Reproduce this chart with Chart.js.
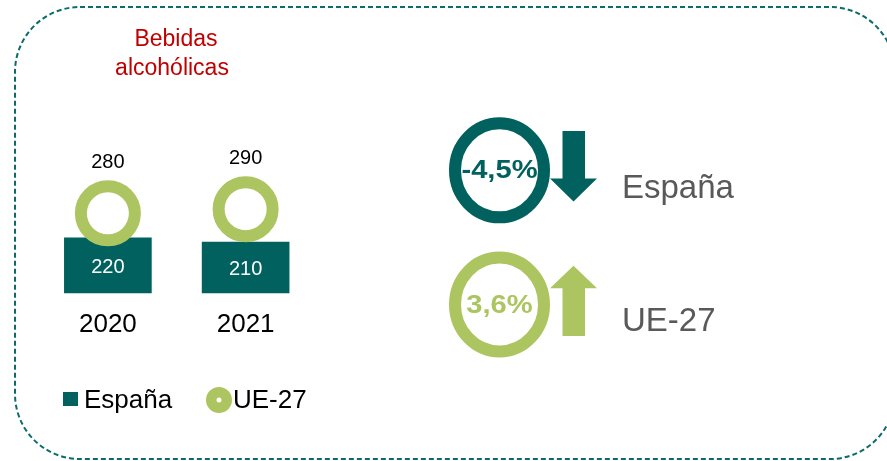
<!DOCTYPE html>
<html lang="es">
<head>
    <meta charset="UTF-8">
    <title>Bebidas alcohólicas</title>
    <script src="https://cdn.jsdelivr.net/npm/chart.js@4.4.8/dist/chart.umd.min.js"></script>
    <style>
        body { margin: 0; background: #fff; }
        canvas { display: block; }
    </style>
</head>
<body>
    <canvas id="chart" width="887" height="461"></canvas>
    <script>
        const years = ['2020', '2021'];
        const espana = [220, 210];
        const ue27 = [280, 290];
        const seriesNames = ['España', 'UE-27'];
        const changes = ['-4,5%', '3,6%'];
        const title = ['Bebidas', 'alcohólicas'];

        const TEAL = '#00615F';
        const GREEN = '#ADC560';
        const FONT = '"Liberation Sans", Arial, sans-serif';

        function drawArrow(ctx, color, shaftL, shaftR, headL, headR, tipY, baseY, endY) {
            ctx.fillStyle = color;
            ctx.beginPath();
            ctx.moveTo(shaftL, endY);
            ctx.lineTo(shaftL, baseY);
            ctx.lineTo(headL, baseY);
            ctx.lineTo((headL + headR) / 2, tipY);
            ctx.lineTo(headR, baseY);
            ctx.lineTo(shaftR, baseY);
            ctx.lineTo(shaftR, endY);
            ctx.closePath();
            ctx.fill();
        }

        const decor = {
            id: 'decor',
            beforeDraw(chart) {
                const ctx = chart.ctx;
                ctx.save();
                // dashed frame
                ctx.strokeStyle = '#0E6B6B';
                ctx.lineWidth = 2;
                ctx.setLineDash([5, 3]);
                ctx.beginPath();
                ctx.roundRect(15, 7, 880, 452, 65);
                ctx.stroke();
                ctx.setLineDash([]);

                // title
                ctx.fillStyle = '#C00000';
                ctx.font = '23px ' + FONT;
                ctx.textAlign = 'center';
                ctx.textBaseline = 'middle';
                ctx.fillText(title[0], 176, 40);
                ctx.fillText(title[1], 172, 69);
                ctx.restore();
            },
            afterDatasetsDraw(chart) {
                const ctx = chart.ctx;
                const bottom = chart.chartArea.bottom;
                ctx.save();
                ctx.textAlign = 'center';
                ctx.textBaseline = 'middle';
                ctx.font = '20px ' + FONT;

                chart.getDatasetMeta(0).data.forEach((bar, i) => {
                    ctx.fillStyle = '#fff';
                    ctx.fillText(espana[i], bar.x, (bar.y + bottom) / 2 + 1.5);
                });
                chart.getDatasetMeta(1).data.forEach((pt, i) => {
                    ctx.fillStyle = '#000';
                    ctx.fillText(ue27[i], pt.x, pt.y - 51);
                });

                // category labels
                ctx.font = '26px ' + FONT;
                ctx.fillStyle = '#000';
                years.forEach((y, i) => {
                    ctx.fillText(y, chart.scales.x.getPixelForValue(i), 325);
                });

                // legend
                ctx.fillStyle = TEAL;
                ctx.fillRect(63, 392, 15, 14);
                ctx.textAlign = 'left';
                ctx.fillStyle = '#000';
                ctx.fillText(seriesNames[0], 84, 401);
                ctx.strokeStyle = GREEN;
                ctx.lineWidth = 10.5;
                ctx.beginPath();
                ctx.arc(219, 400, 7.75, 0, Math.PI * 2);
                ctx.stroke();
                ctx.fillStyle = '#000';
                ctx.fillText(seriesNames[1], 233, 401);

                // right side summary
                const rings = [
                    { cx: 499.5, cy: 170.3, color: TEAL },
                    { cx: 499.5, cy: 304.5, color: GREEN }
                ];
                rings.forEach((r, i) => {
                    ctx.strokeStyle = r.color;
                    ctx.lineWidth = 12;
                    ctx.beginPath();
                    ctx.ellipse(r.cx, r.cy, 44.5, 47, 0, 0, Math.PI * 2);
                    ctx.stroke();
                    ctx.save();
                    ctx.translate(r.cx, r.cy + 1);
                    ctx.scale(1.12, 1);
                    ctx.font = 'bold 26px ' + FONT;
                    ctx.textAlign = 'center';
                    ctx.fillStyle = r.color;
                    ctx.fillText(changes[i], 0, 0);
                    ctx.restore();
                });

                drawArrow(ctx, TEAL, 562.5, 585, 550, 597, 201.5, 178.5, 131);
                drawArrow(ctx, GREEN, 562.5, 585, 550, 597, 265.7, 288.3, 336);

                ctx.font = '33px ' + FONT;
                ctx.fillStyle = '#595959';
                ctx.textAlign = 'left';
                ctx.fillText(seriesNames[0], 622, 189);
                ctx.fillText(seriesNames[1], 622, 322);
                ctx.restore();
            }
        };

        new Chart(document.getElementById('chart'), {
            type: 'bar',
            data: {
                labels: years,
                datasets: [
                    {
                        label: seriesNames[0],
                        data: espana,
                        backgroundColor: TEAL,
                        barThickness: 87,
                        order: 1
                    },
                    {
                        type: 'line',
                        label: seriesNames[1],
                        data: ue27,
                        showLine: false,
                        borderColor: GREEN,
                        pointRadius: 27,
                        pointHoverRadius: 27,
                        pointBorderWidth: 12,
                        pointBackgroundColor: '#fff',
                        pointBorderColor: GREEN,
                        order: 0
                    }
                ]
            },
            options: {
                responsive: false,
                animation: false,
                layout: {
                    padding: { left: 35.2, right: 572.5, top: 139.5, bottom: 167.7 }
                },
                plugins: {
                    legend: { display: false },
                    title: { display: false },
                    tooltip: { enabled: false }
                },
                scales: {
                    x: { display: false },
                    y: { display: false, min: 85, max: 460 }
                }
            },
            plugins: [decor]
        });
    </script>
</body>
</html>
